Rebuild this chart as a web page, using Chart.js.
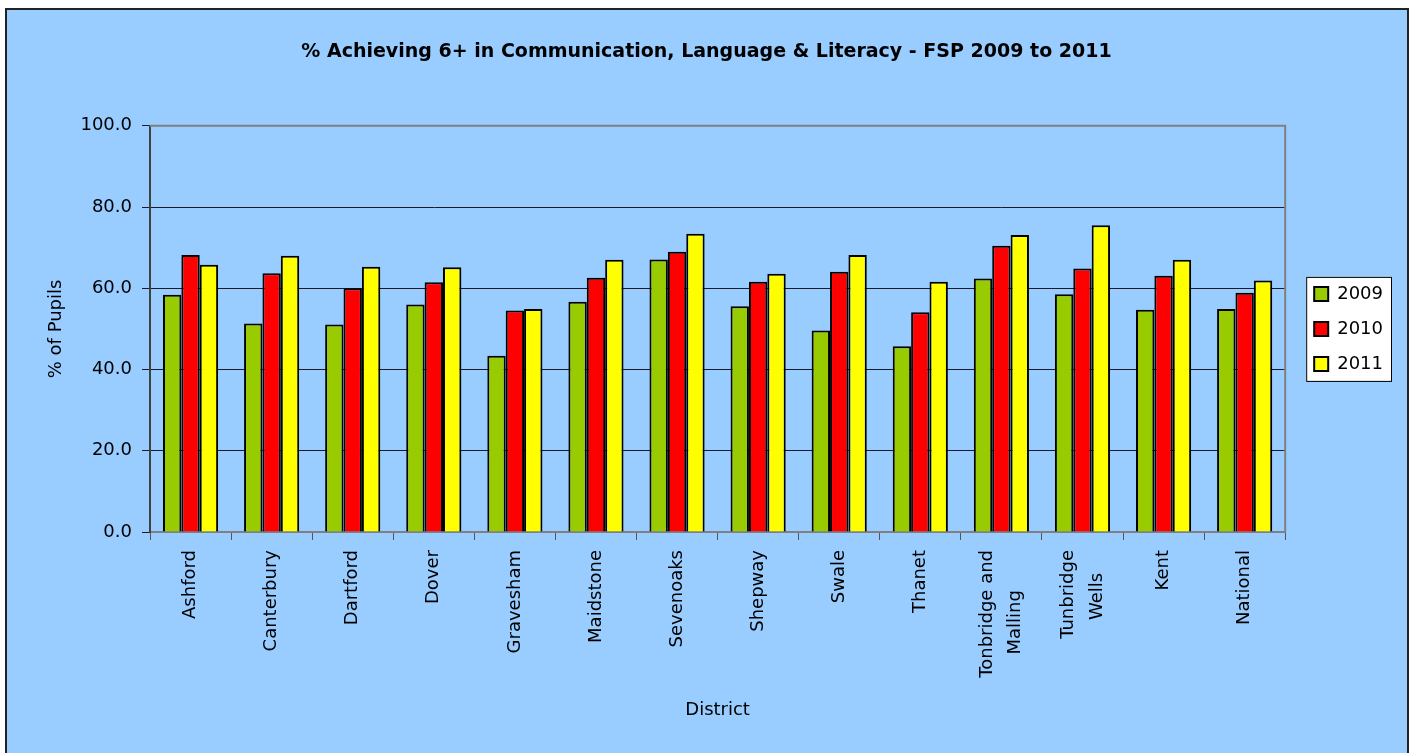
<!DOCTYPE html>
<html>
<head>
<meta charset="utf-8">
<script src="https://cdn.jsdelivr.net/npm/chart.js@4"></script>
<style>
  body { margin: 0; background: #fff; }
  #wrap { width: 1421px; height: 753px; }
</style>
</head>
<body>
<div id="wrap"><canvas id="myChart" width="1421" height="753"></canvas></div>
<script>
// data
// (trailing spaces keep the second line of the two-line names centred like the original)
const districts = ['Ashford', 'Canterbury', 'Dartford', 'Dover', 'Gravesham', 'Maidstone', 'Sevenoaks',
  'Shepway', 'Swale', 'Thanet', ['Tonbridge and', 'Malling       '], ['Tunbridge', 'Wells    '], 'Kent', 'National'];
const years = ['2009', '2010', '2011'];
const values2009 = [58.4, 51.3, 51.1, 56.0, 43.4, 56.7, 67.1, 55.6, 49.6, 45.7, 62.4, 58.5, 54.7, 54.9];
const values2010 = [68.2, 63.7, 60.0, 61.5, 54.5, 62.6, 69.0, 61.6, 64.1, 54.1, 70.5, 64.9, 63.1, 58.9];
const values2011 = [65.8, 68.0, 65.3, 65.2, 54.9, 67.0, 73.4, 63.6, 68.2, 61.6, 73.1, 75.5, 67.0, 61.9];
const yTicks = [0, 20, 40, 60, 80, 100];

const FONT = 'DejaVu Sans';

// background, border of chart and white legend box
const frame = {
  id: 'frame',
  afterLayout(chart) {
    // leave a gap between plot area and legend
    const lg = chart.legend;
    lg.left += 12;
    lg.right += 12;
    // title is centred on the whole frame, not the padded area
    chart.titleBlock.left += 11;
    chart.titleBlock.right += 11;
  },
  beforeDraw(chart) {
    const c = chart.ctx;
    c.save();
    c.fillStyle = '#ffffff';
    c.fillRect(0, 0, chart.width, chart.height);
    c.fillStyle = '#99ccff';
    c.fillRect(6, 9, 1402, 746);
    c.strokeStyle = '#222';
    c.lineWidth = 2;
    c.strokeRect(6, 9, 1402, 746);

    const boxes = chart.legend.legendHitBoxes;
    if (boxes && boxes.length) {
      let x0 = Infinity, y0 = Infinity, x1 = -Infinity, y1 = -Infinity;
      boxes.forEach(b => {
        x0 = Math.min(x0, b.left); y0 = Math.min(y0, b.top);
        x1 = Math.max(x1, b.left + b.width); y1 = Math.max(y1, b.top + b.height);
      });
      c.fillStyle = '#fff';
      c.fillRect(x0 - 8, y0 - 8, x1 - x0 + 16, y1 - y0 + 16);
      c.strokeStyle = '#000';
      c.lineWidth = 1;
      c.strokeRect(x0 - 8 + 0.5, y0 - 8 + 0.5, x1 - x0 + 16, y1 - y0 + 16);
    }
    c.restore();

    // two-line category names: centre the pair of lines on the tick
    chart.scales.x.getLabelItems().forEach(item => {
      if (Array.isArray(item.label)) {
        item.options.translation[0] -= (item.label.length - 1) * item.font.lineHeight / 2;
      }
    });
  },
  afterDatasetsDraw(chart) {
    // grey top and right edge of plot area
    const a = chart.chartArea, c = chart.ctx;
    c.save();
    c.strokeStyle = '#808080';
    c.lineWidth = 2;
    c.beginPath();
    c.moveTo(a.left, a.top);
    c.lineTo(a.right, a.top);
    c.lineTo(a.right, a.bottom);
    c.stroke();
    c.restore();
  }
};

const ctx = document.getElementById('myChart');
const myChart = new Chart(ctx, {
  type: 'bar',
  data: {
    labels: districts,
    datasets: [
      { label: years[0], data: values2009, backgroundColor: '#99cc00' },
      { label: years[1], data: values2010, backgroundColor: '#ff0000' },
      { label: years[2], data: values2011, backgroundColor: '#ffff00' }
    ].map(d => Object.assign(d, { borderColor: '#000', borderWidth: 2, categoryPercentage: 0.68, barPercentage: 1 }))
  },
  options: {
    responsive: false,
    animation: false,
    devicePixelRatio: 1,
    layout: { padding: { left: 10, top: 10, right: 40, bottom: 0 } },
    plugins: {
      title: {
        display: true,
        text: '% Achieving 6+ in Communication, Language & Literacy - FSP 2009 to 2011',
        color: '#000',
        font: { family: FONT, size: 19, weight: 'bold' },
        padding: { top: 31, bottom: 62 }
      },
      legend: {
        position: 'right',
        fullSize: false,
        labels: {
          color: '#000',
          font: { family: FONT, size: 18 },
          boxWidth: 14,
          boxHeight: 14,
          padding: 17
        }
      },
      tooltip: { enabled: false }
    },
    scales: {
      x: {
        grid: { drawOnChartArea: false, offset: true, tickLength: 8, color: '#555', lineWidth: 1 },
        border: { color: '#808080', width: 2 },
        ticks: { color: '#000', font: { family: FONT, size: 18, lineHeight: 1.6 }, minRotation: 90, maxRotation: 90, padding: 10, autoSkip: false },
        title: { display: true, text: 'District', color: '#000', font: { family: FONT, size: 18 }, padding: 32 },
        afterFit(scale) { scale.height = 753 - 532; }
      },
      y: {
        min: 0,
        max: 100,
        afterBuildTicks(scale) { scale.ticks = yTicks.map(v => ({ value: v })); },
        grid: { color: '#1a1a2a', lineWidth: 1, tickLength: 8 },
        border: { color: '#404040', width: 2 },
        ticks: { color: '#000', font: { family: FONT, size: 18 }, padding: 10, callback: v => Number(v).toFixed(1) },
        title: { display: true, text: '% of Pupils', color: '#000', font: { family: FONT, size: 18 }, padding: 36 },
        afterFit(scale) { scale.width = 150 - 10; }
      }
    }
  },
  plugins: [frame]
});
</script>
</body>
</html>
